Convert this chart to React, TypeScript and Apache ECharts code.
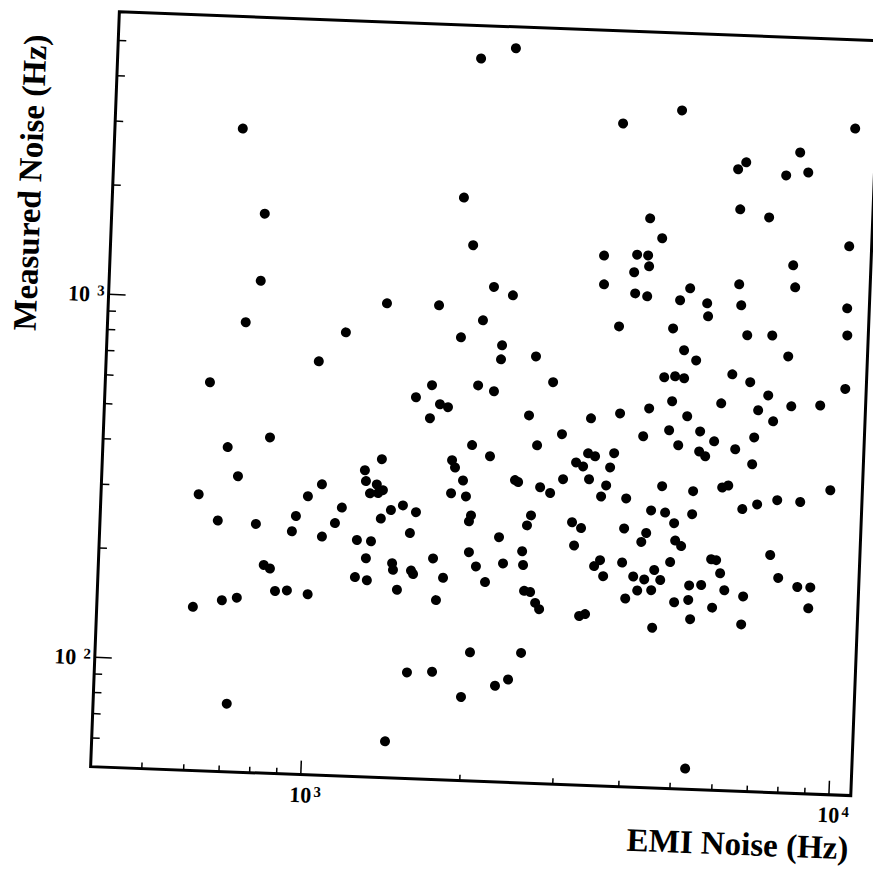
import React, { useEffect, useRef } from 'react';
import * as echarts from 'echarts';

// EMI Noise (Hz) and Measured Noise (Hz), one entry per measurement
const emiNoise = [
  608, 612, 631, 668, 689, 716, 689, 735, 724, 698, 730, 789, 774, 822, 779, 845, 827, 867, 913, 924,
  938, 1000, 985, 1010, 1045, 1054, 1113, 1144, 1131, 1228, 1225, 1257, 1265, 1281, 1291, 1290, 1306, 1327, 1336, 1358,
  1351, 1364, 1435, 1346, 1417, 1437, 1444, 1474, 1492, 1561, 1545, 1562, 1577, 1551, 1581, 1654, 1660, 1741, 1716, 1750,
  1689, 1724, 1798, 1786, 1836, 1834, 1860, 1983, 1868, 1849, 1930, 1960, 1994, 2004, 2047, 2010, 1996, 1940, 2029, 2071,
  1947, 2050, 2160, 2162, 2139, 2176, 2295, 2279, 2232, 2237, 2329, 2427, 2326, 2420, 2262, 2454, 2557, 2526, 2542, 2564,
  2569, 2545, 2633, 2610, 2696, 2598, 2649, 2746, 2703, 2826, 2811, 2947, 2983, 3124, 3164, 3148, 3272, 3252, 3248, 3357,
  3312, 3340, 3335, 3464, 3416, 3551, 3609, 3530, 3436, 3452, 3602, 3654, 3710, 3711, 3782, 3652, 3923, 3988, 3939, 3911,
  4114, 3928, 3959, 3968, 4196, 4237, 4198, 4318, 4322, 4174, 4163, 4188, 4289, 4174, 4399, 4459, 4506, 4503, 4630, 4597,
  4413, 4556, 4677, 4695, 4820, 4734, 4697, 4937, 4873, 4909, 4776, 4897, 4820, 5043, 4711, 4945, 4969, 5324, 5068, 5248,
  5256, 5026, 5308, 5263, 5265, 5221, 5370, 5375, 5538, 5517, 5426, 5459, 5759, 5830, 5722, 5887, 6003, 5864, 5972, 6130,
  6130, 6125, 6280, 6072, 6218, 6169, 6295, 6541, 6635, 6661, 6283, 6494, 6630, 6778, 6808, 6973, 6895, 7187, 7006, 7443,
  7242, 7373, 7605, 7736, 7493, 7790, 7959, 7841, 7938, 8418, 7934, 8408, 8245, 8862, 8910, 9027, 9566, 10040, 10040, 9990,
  9975, 10040
];
const measuredNoise = [
  141, 288, 587, 245, 148, 77, 391, 151, 326, 2950, 866, 242, 1130, 187, 1730, 183, 420, 159, 160, 233,
  257, 157, 292, 688, 316, 227, 248, 274, 832, 224, 177, 349, 326, 200, 174, 302, 223, 320, 303, 258,
  376, 309, 63, 1010, 273, 195, 187, 165, 282, 98, 237, 187, 183, 561, 271, 493, 608, 99, 203, 156,
  1010, 540, 180, 531, 308, 380, 363, 85, 829, 2010, 335, 303, 259, 213, 113, 269, 420, 1490, 614, 195,
  4870, 928, 177, 393, 1150, 594, 92, 236, 728, 796, 200, 96, 1095, 340, 5240, 336, 114, 217, 199, 169,
  256, 514, 168, 273, 157, 748, 426, 151, 327, 316, 638, 460, 346, 264, 228, 386, 146, 255, 377, 148,
  410, 348, 512, 201, 403, 209, 189, 313, 1440, 1200, 336, 377, 413, 923, 532, 3340, 257, 165, 311, 207,
  190, 1305, 1142, 1460, 174, 237, 463, 187, 251, 1124, 1457, 1360, 553, 1843, 290, 175, 138, 199, 187, 339,
  1630, 676, 287, 484, 210, 582, 923, 163, 269, 241, 682, 441, 1105, 233, 3680, 806, 675, 57, 531, 166,
  182, 1195, 147, 286, 331, 758, 426, 484, 183, 414, 1091, 1005, 216, 159, 456, 215, 198, 581, 341, 178,
  346, 700, 436, 2570, 1240, 1994, 1086, 299, 144, 172, 2690, 900, 669, 398, 472, 309, 561, 618, 1908, 225,
  904, 525, 319, 195, 2500, 795, 580, 1417, 1233, 185, 2900, 317, 2560, 162, 185, 587, 344, 656, 921, 1093,
  1620, 3420
];

const xRange = [400, 11000];
const yRange = [50, 6000];
const xTicks = [500, 600, 700, 800, 900, 1000, 2000, 3000, 4000, 5000, 6000, 7000, 8000, 9000, 10000];
const yTicks = [60, 70, 80, 90, 100, 200, 300, 400, 500, 600, 700, 800, 900, 1000, 2000, 3000, 4000, 5000];
const xTitle = 'EMI Noise (Hz)';
const yTitle = 'Measured Noise (Hz)';

const FONT = "'Liberation Serif', 'Times New Roman', serif";

const isPow10 = (v: number) => {
  const e = Math.log10(v);
  return Math.abs(e - Math.round(e)) < 1e-6;
};

export default function App() {
  const ref = useRef<HTMLDivElement>(null);

  useEffect(() => {
    const chart = echarts.init(ref.current as HTMLDivElement, null, { renderer: 'svg' });
    const points = emiNoise.map((x, i) => [x, measuredNoise[i]]);

    const option: any = {
      animation: false,
      backgroundColor: '#fff',
      grid: {
        left: 104.7,
        top: 26,
        width: 760.7,
        height: 755.4,
        show: true,
        borderColor: '#000',
        borderWidth: 3,
        backgroundColor: 'transparent',
      },
      xAxis: {
        type: 'log',
        logBase: 10,
        min: xRange[0],
        max: xRange[1],
        axisLine: { show: false },
        axisTick: { show: false },
        splitLine: { show: false },
        axisLabel: {
          showMinLabel: false,
          showMaxLabel: false,
          margin: 9,
          formatter: (v: number) =>
            isPow10(v) ? `{p| }{b|10}{s|${Math.round(Math.log10(v))}}` : '',
          rich: {
            p: { width: 10, fontSize: 14 },
            b: { fontFamily: FONT, fontWeight: 'bold', fontSize: 22, color: '#000' },
            s: {
              fontFamily: FONT,
              fontWeight: 'bold',
              fontSize: 15,
              color: '#000',
              verticalAlign: 'top',
              padding: [0, 0, 0, 2],
            },
          },
        },
      },
      yAxis: {
        type: 'log',
        logBase: 10,
        min: yRange[0],
        max: yRange[1],
        axisLine: { show: false },
        axisTick: { show: false },
        splitLine: { show: false },
        axisLabel: {
          showMinLabel: false,
          showMaxLabel: false,
          margin: 4,
          formatter: (v: number) =>
            isPow10(v) ? `{b|10}{s|${Math.round(Math.log10(v))}}` : '',
          rich: {
            b: { fontFamily: FONT, fontWeight: 'bold', fontSize: 22, color: '#000' },
            s: {
              fontFamily: FONT,
              fontWeight: 'bold',
              fontSize: 15,
              color: '#000',
              verticalAlign: 'top',
              padding: [0, 0, 0, 7],
            },
          },
        },
      },
      graphic: [
        {
          type: 'text',
          x: 865,
          y: 834,
          style: {
            text: xTitle,
            font: `bold 33px ${FONT}`,
            fill: '#000',
            align: 'right',
            verticalAlign: 'middle',
          },
        },
        {
          type: 'text',
          x: 22,
          y: 200,
          rotation: Math.PI / 2,
          style: {
            text: yTitle,
            font: `bold 33px ${FONT}`,
            fill: '#000',
            align: 'center',
            verticalAlign: 'middle',
          },
        },
      ],
      series: [
        {
          type: 'custom',
          silent: true,
          clip: false,
          z: 3,
          data: xTicks.map((v) => [v, yRange[0]]),
          renderItem: (_p: any, api: any) => {
            const v = api.value(0);
            const pt = api.coord([v, api.value(1)]);
            const len = isPow10(v) ? 14 : 6;
            return {
              type: 'line',
              shape: { x1: pt[0], y1: pt[1], x2: pt[0], y2: pt[1] - len },
              style: { stroke: '#000', lineWidth: 1.5 },
            };
          },
        },
        {
          type: 'custom',
          silent: true,
          clip: false,
          z: 3,
          data: yTicks.map((v) => [xRange[0], v]),
          renderItem: (_p: any, api: any) => {
            const v = api.value(1);
            const pt = api.coord([api.value(0), v]);
            const len = isPow10(v) ? 17 : 8;
            return {
              type: 'line',
              shape: { x1: pt[0], y1: pt[1], x2: pt[0] + len, y2: pt[1] },
              style: { stroke: '#000', lineWidth: 1.5 },
            };
          },
        },
        {
          type: 'scatter',
          symbol: 'circle',
          symbolSize: 10,
          itemStyle: { color: '#000', opacity: 1 },
          data: points,
          z: 4,
        },
      ],
    };

    chart.setOption(option);
    return () => chart.dispose();
  }, []);

  return (
    <div
      style={{
        position: 'absolute',
        left: 0,
        top: 0,
        width: 873,
        height: 873,
        overflow: 'hidden',
        background: '#fff',
      }}
    >
      <div
        ref={ref}
        style={{
          width: 873,
          height: 873,
          transform: 'rotate(2.18deg)',
          transformOrigin: '485.5px 404px',
        }}
      />
    </div>
  );
}
